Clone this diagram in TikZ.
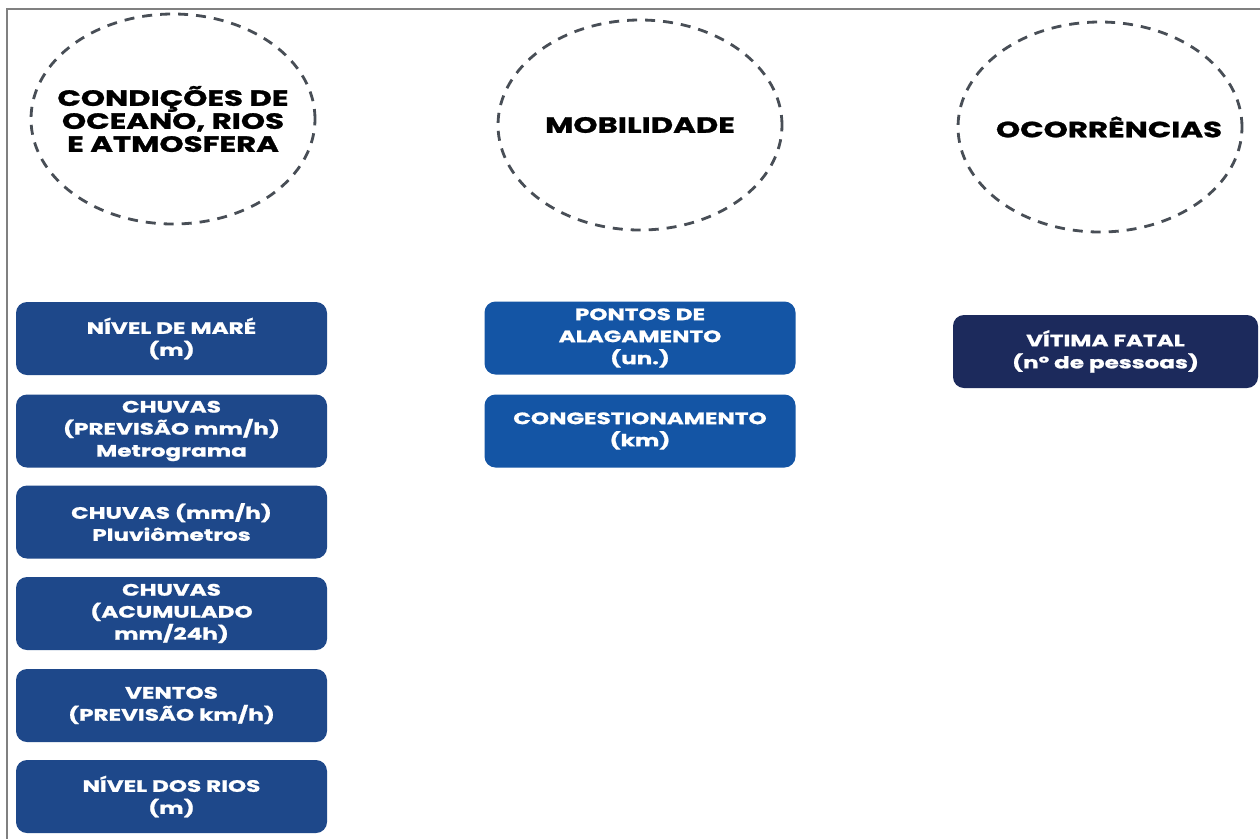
\documentclass[tikz,border=0pt]{standalone}
\usepackage{fontspec}
\setmainfont{Poppins}[BoldFeatures={FakeStretch=1.4, FakeBold=1.2}]
\usetikzlibrary{shapes.geometric}
\definecolor{leftblue}{RGB}{30,72,138}
\definecolor{midblue}{RGB}{20,85,165}
\definecolor{darkblue}{RGB}{28,42,92}
\definecolor{dashgrey}{RGB}{72,78,86}
\definecolor{framegrey}{RGB}{128,128,128}
\tikzset{
  catshape/.style={ellipse, draw=dashgrey, line width=2.8pt, dash pattern=on 10pt off 8pt,
    minimum width=284pt, minimum height=210pt, inner sep=0pt},
  cattext/.style={font=\fontsize{22}{23}\selectfont\bfseries, text=black, align=center, inner sep=0pt},
  item/.style={rounded corners=11pt, text=white, inner sep=0pt,
    minimum width=311pt, minimum height=73pt, align=center,
    font=\fontsize{16.5}{22}\selectfont\bfseries},
  leftitem/.style={item, fill=leftblue},
  miditem/.style={item, fill=midblue},
  rightitem/.style={item, fill=darkblue, minimum width=305pt}
}
\begin{document}
\begin{tikzpicture}[x=1pt,y=-1pt]
\useasboundingbox (0,0) rectangle (1260,839);
\fill[white] (0,0) rectangle (1260,839);
\coordinate (ftr) at (1260,9);
\coordinate (ftl) at (7,9);
\coordinate (fbl) at (7,839);
\draw[framegrey, line width=2.5pt] (ftr) -- (ftl) -- (fbl);

\node[catshape] (c1) at (173,119) {};
\node[catshape] (c2) at (640,125) {};
\node[catshape] (c3) at (1100,127) {};
\node[cattext] (t1) at (c1) {CONDIÇÕES DE\\OCEANO, RIOS\\E ATMOSFERA};
\node[cattext] (t2) at (c2) {MOBILIDADE};
\node[cattext] (t3) at ([xshift=9pt]c3.center) {OCORRÊNCIAS};

\node[leftitem] (l1) at (171.5,338.5) {NÍVEL DE MARÉ\\(m)};
\node[leftitem] (l2) at (171.5,431) {CHUVAS\\(PREVISÃO mm/h)\\Metrograma};
\node[leftitem] (l3) at (171.5,522) {CHUVAS (mm/h)\\Pluviômetros};
\node[leftitem] (l4) at (171.5,613.5) {CHUVAS\\(ACUMULADO\\mm/24h)};
\node[leftitem] (l5) at (171.5,705.5) {VENTOS\\(PREVISÃO km/h)};
\node[leftitem] (l6) at (171.5,796.5) {NÍVEL DOS RIOS\\(m)};

\node[miditem] (m1) at (640,338) {PONTOS DE\\ALAGAMENTO\\(un.)};
\node[miditem] (m2) at (640,431) {CONGESTIONAMENTO\\(km)};

\node[rightitem] (r1) at (1105.5,351.5) {VÍTIMA FATAL\\(nº de pessoas)};
\end{tikzpicture}
\end{document}
